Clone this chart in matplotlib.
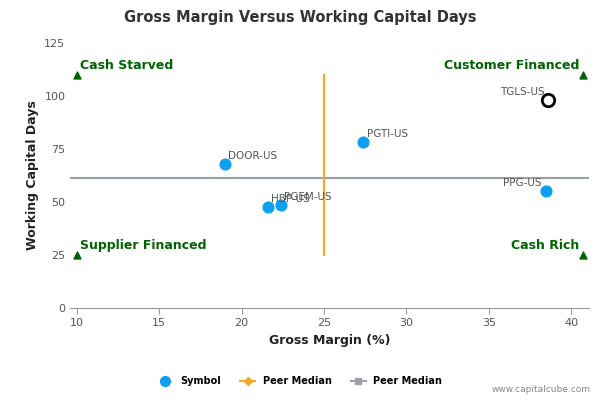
import matplotlib
matplotlib.use("Agg")
import matplotlib.pyplot as plt
from matplotlib.lines import Line2D

names = ["DOOR-US", "PGTI-US", "HBP-US", "PGEM-US", "PPG-US"]
gm = [19.0, 27.4, 21.6, 22.4, 38.5]
wcd = [67.9, 78.3, 47.8, 48.6, 55.0]
focus_name = "TGLS-US"
focus_gm = 38.6
focus_wcd = 98.0
median_gm = 25.0
median_wcd = 61.3
quadrants = ["Cash Starved", "Customer Financed", "Supplier Financed", "Cash Rich"]

fig = plt.figure(figsize=(6, 4), dpi=100)
ax = fig.add_axes([0.117, 0.23, 0.865, 0.662])
ax.set_xlim(9.6, 41.1)
ax.set_ylim(0, 125)
ax.set_xticks([10, 15, 20, 25, 30, 35, 40])
ax.set_yticks([0, 25, 50, 75, 100, 125])
for s in ["top", "right", "left"]:
    ax.spines[s].set_visible(False)
ax.spines["bottom"].set_color("#999999")
ax.tick_params(colors="#555555", labelsize=8, length=0)
ax.tick_params(axis="x", length=4, color="#999999")

ax.plot([9.6, 41.1], [median_wcd, median_wcd], color="#9aa0aa", lw=1.5, zorder=1)
ax.plot([median_gm, median_gm], [25, 110], color="#f5a623", lw=1.5, zorder=1)

ax.scatter(gm, wcd, s=60, color="#0ea0f0", zorder=3)
for n, x, y in zip(names, gm, wcd):
    if n == "PPG-US":
        ax.text(x - 0.3, y + 1.5, n, fontsize=7.5, color="#555555", ha="right", va="bottom")
    else:
        ax.text(x + 0.2, y + 1.5, n, fontsize=7.5, color="#555555", ha="left", va="bottom")
ax.scatter([focus_gm], [focus_wcd], s=80, facecolor="white", edgecolor="black", lw=2, zorder=4)
ax.text(focus_gm - 0.2, focus_wcd + 1.5, focus_name, fontsize=7.5, color="#555555", ha="right", va="bottom")

g = "#006400"
ax.scatter([10, 40.7, 10, 40.7], [110, 110, 25, 25], marker="^", color=g, s=25, zorder=3, clip_on=False)
ax.text(10.2, 113, quadrants[0], color=g, fontsize=9, fontweight="bold")
ax.text(40.5, 113, quadrants[1], color=g, fontsize=9, fontweight="bold", ha="right")
ax.text(10.2, 28, quadrants[2], color=g, fontsize=9, fontweight="bold")
ax.text(40.5, 28, quadrants[3], color=g, fontsize=9, fontweight="bold", ha="right")

ax.set_xlabel("Gross Margin (%)", fontsize=9, fontweight="bold", color="#222222")
ax.set_ylabel("Working Capital Days", fontsize=9, fontweight="bold", color="#222222")
fig.suptitle("Gross Margin Versus Working Capital Days", x=0.5, y=0.975, fontsize=10.5,
             fontweight="bold", color="#333333")

handles = [Line2D([], [], marker="o", color="#0ea0f0", ls="", markersize=7),
           Line2D([], [], marker="D", color="#f5a623", markersize=4),
           Line2D([], [], marker="s", color="#9aa0aa", markersize=5)]
fig.legend(handles, ["Symbol", "Peer Median", "Peer Median"], loc="center", bbox_to_anchor=(0.5, 0.047),
           ncol=3, frameon=False, fontsize=7, prop={"weight": "bold", "size": 7}, handlelength=1.5)
fig.text(0.985, 0.02, "www.capitalcube.com", fontsize=6.5, color="#888888", ha="right")
fig.savefig("out.png")
